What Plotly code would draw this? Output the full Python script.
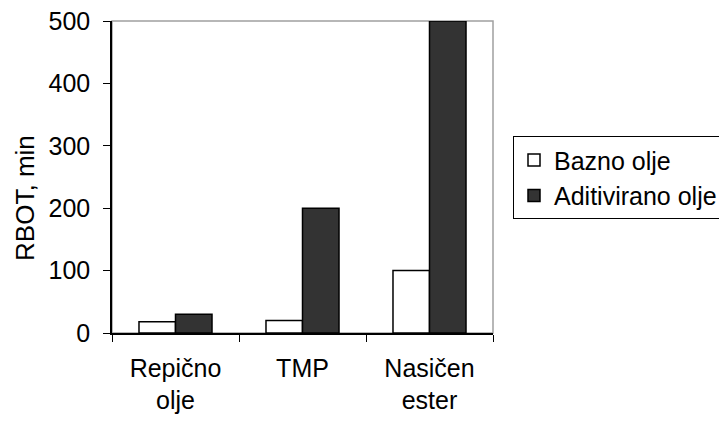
import plotly.graph_objects as go

categories = ["Repično<br>olje", "TMP", "Nasičen<br>ester"]
bazno = [18, 20, 100]
aditivirano = [30, 200, 500]
series_names = ["Bazno olje", "Aditivirano olje"]
y_ticks = [0, 100, 200, 300, 400, 500]
y_title = "RBOT, min"

FONT = "Liberation Sans, Arial, sans-serif"
FS = 25

fig = go.Figure()
fig.add_trace(go.Bar(x=categories, y=bazno, name=series_names[0],
                     marker=dict(color="#ffffff", line=dict(color="#000000", width=1.5))))
fig.add_trace(go.Bar(x=categories, y=aditivirano, name=series_names[1],
                     marker=dict(color="#333333", line=dict(color="#000000", width=1.5))))

fig.update_layout(
    width=719, height=423,
    margin=dict(l=112, r=226, t=21, b=90, autoexpand=False),
    paper_bgcolor="white", plot_bgcolor="white",
    font=dict(family=FONT, size=FS, color="black"),
    barmode="group", bargap=0.425, bargroupgap=0,
    showlegend=True,
    legend=dict(x=1.0525, y=0.631, xanchor="left", yanchor="top",
                bordercolor="#000000", borderwidth=1, bgcolor="white",
                font=dict(family=FONT, size=FS, color="black")),
    shapes=[dict(type="rect", xref="paper", yref="paper", x0=0, y0=0, x1=1, y1=1,
                 line=dict(color="#a0a0a0", width=1.5), layer="below")],
    annotations=[dict(text=y_title, textangle=-90, xref="paper", yref="paper",
                      x=0, y=0.433, xanchor="center", yanchor="middle",
                      xshift=-87, showarrow=False,
                      font=dict(family=FONT, size=26, color="black"))],
)
fig.update_xaxes(
    type="category", tickson="boundaries", ticks="outside", ticklen=7,
    tickcolor="black", tickwidth=1, showline=True, linecolor="black", linewidth=1.5,
    showgrid=False, zeroline=False, ticklabelstandoff=12,
)
fig.update_yaxes(
    range=[0, 500], tickvals=y_ticks, ticks="outside", ticklen=7,
    tickcolor="black", tickwidth=1, showline=True, linecolor="black", linewidth=1.5,
    showgrid=False, zeroline=False, ticklabelstandoff=8,
)

fig.write_html("out.html")
